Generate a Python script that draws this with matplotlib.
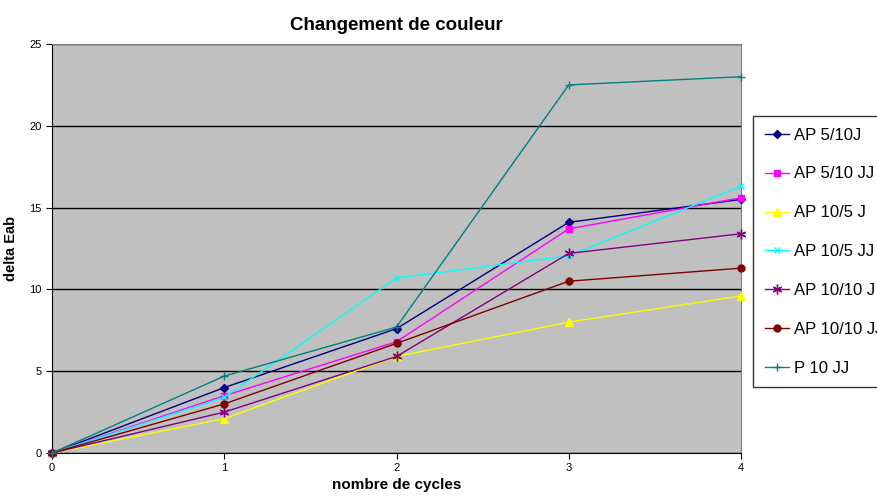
import numpy as np
import matplotlib.pyplot as plt

plt.rcParams['font.family'] = ['Liberation Sans', 'DejaVu Sans']

cycles = [0, 1, 2, 3, 4]
ap_5_10j = [0, 4.0, 7.6, 14.1, 15.5]
ap_5_10jj = [0, 3.5, 6.8, 13.7, 15.6]
ap_10_5j = [0, 2.1, 5.9, 8.0, 9.6]
ap_10_5jj = [0, 3.4, 10.7, 12.05, 16.3]
ap_10_10j = [0, 2.5, 5.9, 12.2, 13.4]
ap_10_10jj = [0, 3.0, 6.7, 10.5, 11.3]
p_10jj = [0, 4.7, 7.7, 22.5, 23.0]

series = [
    ("AP 5/10J", ap_5_10j, "#000080", "D", 4),
    ("AP 5/10 JJ", ap_5_10jj, "#FF00FF", "s", 5),
    ("AP 10/5 J", ap_10_5j, "#FFFF00", "^", 6),
    ("AP 10/5 JJ", ap_10_5jj, "#00FFFF", "x", 5),
    ("AP 10/10 J", ap_10_10j, "#800080", (6, 2, 0), 7),
    ("AP 10/10 JJ", ap_10_10jj, "#800000", "o", 5),
    ("P 10 JJ", p_10jj, "#008080", "+", 6),
]

fig = plt.figure(figsize=(8.78, 4.97), dpi=100)
ax = fig.add_axes([52 / 878, 1 - 453 / 497, (741 - 52) / 878, (453 - 44) / 497])
ax.set_facecolor("#C0C0C0")

for label, vals, col, mk, ms in series:
    ax.plot(cycles, vals, color=col, marker=mk, markersize=ms, linewidth=1,
            markeredgewidth=1, label=label, clip_on=False, zorder=3)

ax.set_xlim(0, 4)
ax.set_ylim(0, 25)
ax.set_xticks(cycles)
ax.set_yticks([0, 5, 10, 15, 20, 25])
ax.yaxis.grid(True, color="black", linewidth=1)
ax.set_axisbelow(True)
for s in ["top", "right"]:
    ax.spines[s].set_color("#808080")
for s in ["left", "bottom"]:
    ax.spines[s].set_color("black")
ax.tick_params(labelsize=8, direction="out", length=4)

ax.set_title("Changement de couleur", fontsize=13.5, fontweight="bold", pad=10)
ax.set_xlabel("nombre de cycles", fontsize=11, fontweight="bold", labelpad=3)
ax.set_ylabel("delta Eab", fontsize=10.5, fontweight="bold", labelpad=8)

leg = fig.legend(loc="upper left", bbox_to_anchor=(753 / 878, 1 - 116 / 497),
                 fontsize=12, frameon=True, fancybox=False, labelspacing=1.43,
                 handlelength=1.45, handletextpad=0.3, borderpad=0.7,
                 borderaxespad=0)
leg.get_frame().set_edgecolor("black")
leg.get_frame().set_linewidth(1)

fig.savefig("out.png", dpi=100)
